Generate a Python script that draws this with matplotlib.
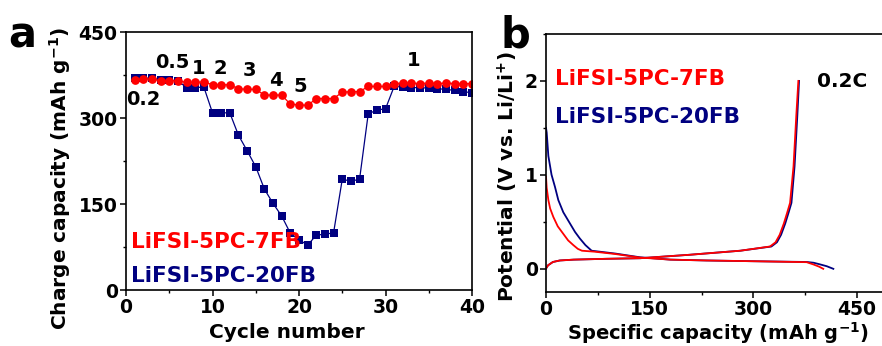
import matplotlib
matplotlib.use('Agg')
import matplotlib.pyplot as plt
from matplotlib.ticker import MultipleLocator

plt.rcParams['font.family'] = ['DejaVu Sans']
plt.rcParams['font.weight'] = 'bold'
plt.rcParams['mathtext.default'] = 'bf'

RED = '#ff0000'
NAVY = '#000080'

# panel a: rate capability
cycles = list(range(1, 41))
cap_7fb = [366, 368, 368, 365, 365, 365, 362, 362, 363, 358,
           358, 358, 351, 350, 350, 340, 340, 340, 324, 323,
           322, 334, 334, 334, 345, 346, 346, 355, 355, 355,
           360, 361, 361, 360, 361, 360, 361, 360, 360, 360]
cap_20fb = [369, 370, 369, 367, 366, 365, 353, 353, 354, 309,
            309, 309, 270, 243, 215, 176, 151, 129, 99, 88,
            78, 96, 97, 100, 193, 190, 193, 307, 314, 316,
            355, 354, 353, 353, 352, 351, 350, 348, 346, 344]
rate_labels = ['0.2', '0.5', '1', '2', '3', '4', '5', '1']
rate_x = [2.0, 5.4, 8.4, 10.9, 14.3, 17.3, 20.1, 33.2]
rate_y = [333, 396, 387, 387, 382, 365, 355, 401]

# panel b: voltage profiles at 0.2C
dis_7fb_x = [0, 1, 3.4, 6, 10.6, 17, 25, 32, 39.5, 46, 52, 70, 100, 136,
             180, 232, 300, 377, 387, 395, 401]
dis_7fb_v = [0.98, 0.86, 0.73, 0.64, 0.55, 0.45, 0.37, 0.30, 0.25, 0.21,
             0.19, 0.18, 0.155, 0.117, 0.095, 0.086, 0.078, 0.068, 0.043,
             0.02, -0.003]
dis_20fb_x = [0, 1, 3.4, 8, 13, 17.8, 25, 34.7, 42, 49, 57, 66, 100, 136,
              180, 232, 300, 377, 387, 396, 406, 415.6]
dis_20fb_v = [1.5, 1.45, 1.2, 1.0, 0.87, 0.73, 0.6, 0.48, 0.39, 0.32,
              0.25, 0.19, 0.16, 0.12, 0.095, 0.086, 0.078, 0.07, 0.062,
              0.045, 0.025, -0.003]
chg_7fb_x = [0, 3, 10, 20, 40, 88, 136, 208, 281, 324, 332, 338, 344,
             349, 353, 358, 362, 365]
chg_7fb_v = [0.0, 0.035, 0.07, 0.086, 0.095, 0.104, 0.11, 0.147, 0.19,
             0.235, 0.28, 0.36, 0.48, 0.6, 0.70, 1.09, 1.63, 2.0]
chg_20fb_x = [0, 3, 10, 20, 40, 88, 136, 208, 281, 326, 334, 340, 346,
              351, 355, 359.5, 363.5, 366]
chg_20fb_v = [0.0, 0.035, 0.07, 0.086, 0.095, 0.104, 0.11, 0.147, 0.19,
              0.235, 0.28, 0.36, 0.48, 0.6, 0.70, 1.09, 1.63, 2.0]

W, H = 882, 346
fig = plt.figure(figsize=(W / 100, H / 100), dpi=100)


def fx(px):
    return px / W


def fy(py):
    return 1 - py / H


def style_axes(ax):
    for s in ax.spines.values():
        s.set_linewidth(1.2)
    ax.tick_params(which='major', direction='out', length=4, width=1.1,
                   labelsize=13.5, pad=2)
    ax.tick_params(which='minor', direction='out', length=2.5, width=1.0)
    for lab in ax.get_xticklabels() + ax.get_yticklabels():
        lab.set_fontweight('bold')


# ---- panel a
ax1 = fig.add_axes([fx(126), fy(290), 346 / W, 258 / H])
ax1.plot(cycles, cap_20fb, '-s', color=NAVY, ms=5.6, lw=0.9, mew=0,
         clip_on=True)
ax1.plot(cycles, cap_7fb, '-o', color=RED, ms=6.3, lw=0.9, mew=0)
ax1.set_xlim(0, 40)
ax1.set_ylim(0, 450)
ax1.xaxis.set_major_locator(MultipleLocator(10))
ax1.xaxis.set_minor_locator(MultipleLocator(5))
ax1.yaxis.set_major_locator(MultipleLocator(150))
ax1.yaxis.set_minor_locator(MultipleLocator(75))
style_axes(ax1)
for t, x, y in zip(rate_labels, rate_x, rate_y):
    ax1.text(x, y, t, fontsize=14, fontweight='bold', ha='center',
             va='center')
ax1.text(0.6, 83, 'LiFSI-5PC-7FB', color=RED, fontsize=15.5,
         fontweight='bold', va='center')
ax1.text(0.6, 24, 'LiFSI-5PC-20FB', color=NAVY, fontsize=15.5,
         fontweight='bold', va='center')

fig.text(fx(60), fy(178), r'Charge capacity (mAh g$^{-1}$)', rotation=90,
         ha='center', va='center', fontsize=14.5, fontweight='bold')
fig.text(fx(287), fy(333), 'Cycle number', ha='center', va='center',
         fontsize=14.5, fontweight='bold')
fig.text(fx(8), fy(48), 'a', fontsize=30, fontweight='bold', ha='left',
         va='baseline')

# ---- panel b
ax2 = fig.add_axes([fx(546), fy(292), 345.7 / W, 258 / H])
ax2.plot(dis_20fb_x, dis_20fb_v, color=NAVY, lw=1.3)
ax2.plot(chg_20fb_x, chg_20fb_v, color=NAVY, lw=1.3)
ax2.plot(dis_7fb_x, dis_7fb_v, color=RED, lw=1.3)
ax2.plot(chg_7fb_x, chg_7fb_v, color=RED, lw=1.3)
ax2.set_xlim(0, 500)
ax2.set_ylim(-0.25, 2.5)
ax2.xaxis.set_major_locator(MultipleLocator(150))
ax2.xaxis.set_minor_locator(MultipleLocator(75))
ax2.yaxis.set_major_locator(MultipleLocator(1))
ax2.yaxis.set_minor_locator(MultipleLocator(0.5))
style_axes(ax2)
ax2.text(13, 2.02, 'LiFSI-5PC-7FB', color=RED, fontsize=15.5,
         fontweight='bold', va='center')
ax2.text(13, 1.61, 'LiFSI-5PC-20FB', color=NAVY, fontsize=15.5,
         fontweight='bold', va='center')
ax2.text(392, 1.99, '0.2C', fontsize=14.5, fontweight='bold', va='center')

fig.text(fx(508), fy(177), r'Potential (V vs. Li/Li$^{+}$)', rotation=90,
         ha='center', va='center', fontsize=14.5, fontweight='bold')
fig.text(fx(718), fy(333), r'Specific capacity (mAh g$^{-1}$)',
         ha='center', va='center', fontsize=14, fontweight='bold')
fig.text(fx(500), fy(48), 'b', fontsize=30, fontweight='bold', ha='left',
         va='baseline')

fig.savefig('out.png', dpi=100)
